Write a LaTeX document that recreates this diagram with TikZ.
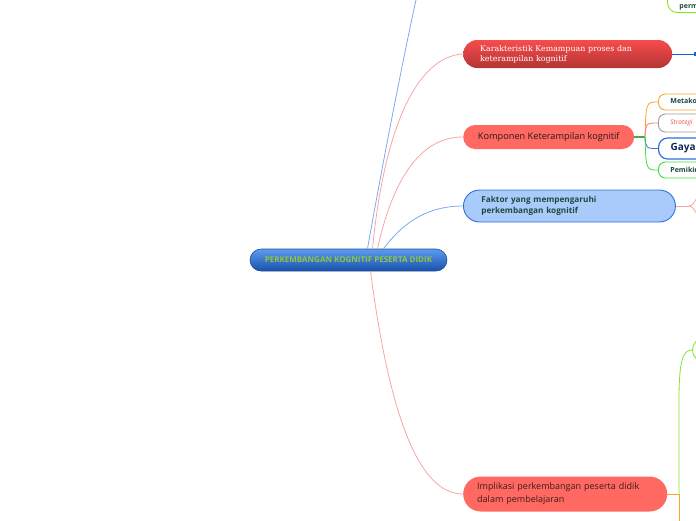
\documentclass[tikz,border=0pt]{standalone}
\usepackage{fontspec}
\setmainfont{Open Sans}
\newfontfamily\serifk{DejaVu Serif}
\definecolor{pinkln}{HTML}{F7A5A5}
\definecolor{blueln}{HTML}{7EA9EE}
\definecolor{darkblueln}{HTML}{1A5FD6}
\definecolor{salmon}{HTML}{FF6962}
\definecolor{dkgreen}{HTML}{1C4A3A}
\definecolor{navy}{HTML}{0D2A5C}
\definecolor{lime}{HTML}{86E62E}
\definecolor{grn}{HTML}{39E039}
\definecolor{orng}{HTML}{F7A62A}
\definecolor{lightblue}{HTML}{A9CBFC}
\definecolor{bluebd}{HTML}{2F6FDC}
\definecolor{ctop}{HTML}{5C9CF0}
\definecolor{cbot}{HTML}{1A50A8}
\definecolor{cbd}{HTML}{1F4F9A}
\definecolor{ctext}{HTML}{8DC63F}
\definecolor{ktop}{HTML}{F84C4C}
\definecolor{kbot}{HTML}{B33434}
\definecolor{kotext}{HTML}{2A1A1A}
\definecolor{imtext}{HTML}{3A1D1D}
\definecolor{grayln}{HTML}{9A9A9A}
\definecolor{redtext}{HTML}{E8554E}
\definecolor{midgreen}{HTML}{3CB043}
\definecolor{salmonln}{HTML}{F08080}
\begin{document}
\begin{tikzpicture}[x=1pt,y=-1pt,
  pill/.style={anchor=west, align=left, font=\fontsize{9}{13}\selectfont},
  childbox/.style={anchor=west, align=left, fill=white, line width=0.9pt, inner xsep=12pt, inner ysep=0pt, rounded corners=7pt},
  conn/.style={line width=0.8pt}
]
\useasboundingbox (0,0) rectangle (696,520);
\clip (0,0) rectangle (696,520);

% central node
\node[anchor=center, minimum width=197pt, minimum height=22pt, rounded corners=11pt,
  top color=ctop, bottom color=cbot, draw=cbd, line width=0.6pt,
  text=ctext, font=\bfseries\fontsize{8}{9}\selectfont, inner sep=0pt] (c) at (348.5,260) {PERKEMBANGAN KOGNITIF PESERTA DIDIK};

% main branches
\node[pill, minimum width=209pt, minimum height=28pt, rounded corners=14pt,
  top color=ktop, bottom color=kbot, text=white,
  text width=175pt, inner xsep=17pt, inner ysep=0pt,
  font=\serifk\fontsize{7.9}{10}\selectfont] (k) at (463,54) {Karakteristik Kemampuan proses dan\\keterampilan kognitif};

\node[pill, minimum width=171pt, minimum height=24pt, rounded corners=12pt, fill=salmon,
  text=kotext, inner xsep=14pt, inner ysep=0pt, font=\fontsize{9.2}{11}\selectfont] (ko) at (463,137) {Komponen Keterampilan kognitif};

\node[pill, minimum width=212pt, minimum height=32pt, rounded corners=16pt, fill=lightblue,
  draw=bluebd, line width=0.9pt, text=dkgreen, text width=176pt, inner xsep=18pt, inner ysep=0pt,
  font=\bfseries\fontsize{8.2}{11}\selectfont] (f) at (463,206) {Faktor yang mempengaruhi\\perkembangan kognitif};

\node[pill, minimum width=204pt, minimum height=35pt, rounded corners=17.5pt, fill=salmon,
  text=imtext, text width=176pt, inner xsep=14pt, inner ysep=0pt] (im) at (463,494) {Implikasi perkembangan peserta didik\\dalam pembelajaran};

% connectors from central node
\draw[conn, blueln] ([xshift=19pt]c.north) .. controls (385,150) and (405,50) .. (416,0) coordinate (topend);
\draw[conn, pinkln] ([xshift=24pt]c.north) .. controls (385,120) and (420,56) .. (k.west);
\draw[conn, pinkln] ([xshift=29pt]c.north) .. controls (395,170) and (425,137) .. (ko.west);
\draw[conn, blueln] ([xshift=35pt]c.north) .. controls (405,220) and (430,206) .. (f.west);
\draw[conn, pinkln] ([xshift=22pt]c.south) .. controls (390,420) and (420,494) .. (im.west);

% Karakteristik right
\coordinate (kr) at (700,54);
\draw[conn, darkblueln] (k.east) -- (kr);
\fill[darkblueln] (694,52) rectangle (698,56);

% Komponen children
\coordinate (kj) at (645,137);
\draw[line width=1.4pt, midgreen] (ko.east) -- (kj);
\node[childbox, draw=orng, minimum height=16pt, text=dkgreen, font=\bfseries\fontsize{7}{8}\selectfont] (m) at (658,102) {Metakognisi};
\node[childbox, draw=grayln, minimum height=18pt, text=redtext, font=\itshape\fontsize{6.5}{8}\selectfont] (s) at (658,123) {Strategi};
\node[childbox, draw=bluebd, line width=1.2pt, minimum height=21pt, rounded corners=9pt, text=navy, font=\bfseries\fontsize{10}{12}\selectfont] (g) at (658,148.5) {Gaya};
\node[childbox, draw=grn, minimum height=16pt, text=dkgreen, font=\bfseries\fontsize{7}{8}\selectfont] (p) at (658,170) {Pemikiran};
\draw[conn, orng] (kj) .. controls (646,102) .. (m.west);
\draw[conn, salmonln] (kj) .. controls (646,123) .. (s.west);
\draw[conn, bluebd] (kj) .. controls (646,148.5) .. (g.west);
\draw[conn, grn] (kj) .. controls (646,170) .. (p.west);

% Faktor right
\coordinate (fj) at (689,206);
\coordinate (fu) at (698,196);
\coordinate (fd) at (698,216);
\draw[conn, pinkln] (f.east) -- (fj);
\draw[conn, pinkln] (fj) .. controls (692,206) .. (fu);
\draw[conn, pinkln] (fj) .. controls (692,206) .. (fd);

% top right partial node
\node[childbox, draw=lime, anchor=south west, rounded corners=10pt, text=dkgreen,
  font=\bfseries\fontsize{7}{8}\selectfont, inner ysep=4pt, text height=30pt, text depth=0pt] (tp) at (667,13) {perm};

% Implikasi right
\coordinate (ij) at (679,494);
\coordinate (idown) at (679,522);
\draw[conn, orng] (im.east) -- (ij);
\draw[conn, orng] (ij) -- (idown);
\node[childbox, draw=lime, minimum height=24pt, rounded corners=12pt, text=dkgreen,
  font=\bfseries\fontsize{7}{8}\selectfont] (ig) at (692,350) {\phantom{x}};
\draw[conn, lime] (ij) -- (679,400) .. controls (679,360) and (683,350) .. (ig.west);
\end{tikzpicture}
\end{document}
